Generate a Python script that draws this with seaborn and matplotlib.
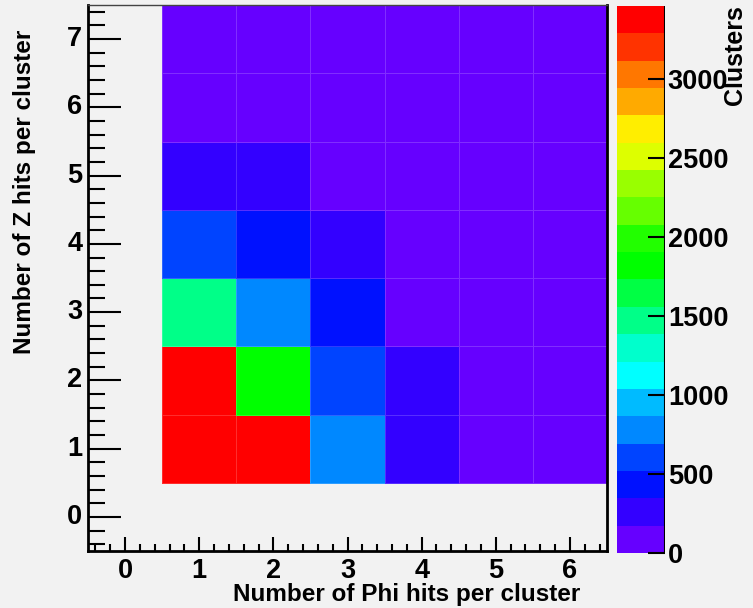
import numpy as np
import pandas as pd
import seaborn as sns
import matplotlib
matplotlib.use("Agg")
import matplotlib.pyplot as plt
from matplotlib.colors import ListedColormap
from matplotlib.ticker import MultipleLocator

# 축 값 (0번 행/열은 비어 있음)
phi_ticks = [0, 1, 2, 3, 4, 5, 6]
z_ticks = [0, 1, 2, 3, 4, 5, 6, 7]
phi_hits = [1, 2, 3, 4, 5, 6]
z_hits = [1, 2, 3, 4, 5, 6, 7]

# 클러스터 개수 (행 = Z hits 1..7, 열 = Phi hits 1..6)
counts_z1 = [3460, 3390, 780, 260, 70, 40]
counts_z2 = [3350, 1820, 600, 250, 60, 30]
counts_z3 = [1470, 760, 430, 110, 40, 20]
counts_z4 = [600, 420, 250, 80, 30, 15]
counts_z5 = [280, 220, 90, 40, 20, 10]
counts_z6 = [100, 70, 40, 20, 10, 5]
counts_z7 = [50, 30, 20, 10, 5, 3]

z_max = 3460
cbar_ticks = [0, 500, 1000, 1500, 2000, 2500, 3000]

# ROOT 기본 팔레트 (20단계, 아래 -> 위)
palette = ["#6600ff", "#3300ff", "#0011ff", "#0044ff", "#0088ff",
           "#00bbff", "#00ffff", "#00ffcc", "#00ff88", "#00ff44",
           "#00ff00", "#22ff00", "#66ff00", "#99ff00", "#ddff00",
           "#ffee00", "#ffaa00", "#ff7700", "#ff3300", "#ff0000"]

rows = [counts_z1, counts_z2, counts_z3, counts_z4, counts_z5, counts_z6, counts_z7]
df = pd.DataFrame(rows, index=z_hits, columns=phi_hits)

bg = "#f2f2f2"
plt.rcParams['font.family'] = ['Liberation Sans', 'DejaVu Sans']
plt.rcParams['font.weight'] = 'bold'

fig = plt.figure(figsize=(7.53, 6.08), dpi=100, facecolor=bg)
ax = fig.add_axes([88 / 753, 57 / 608, 519 / 753, 546 / 608])
cax = fig.add_axes([617 / 753, 55 / 608, 48 / 753, 547 / 608])
ax.set_facecolor(bg)

sns.heatmap(df, ax=ax, cbar_ax=cax, cmap=ListedColormap(palette), vmin=0, vmax=z_max,
            linewidths=0.5, linecolor=(1, 1, 1, 0.18))

# 히트맵 셀은 0..6, 0..7 위치 -> 빈 0번 칸을 위해 한 칸씩 확장
ax.set_xlim(-1, len(phi_hits))
ax.set_ylim(-1, len(z_hits))   # y축 아래 -> 위
ax.set_xticks(np.arange(len(phi_ticks)) - 0.5)
ax.set_xticklabels(phi_ticks, rotation=0)
ax.set_yticks(np.arange(len(z_ticks)) - 0.5)
ax.set_yticklabels(z_ticks, rotation=0)
ax.xaxis.set_minor_locator(MultipleLocator(0.2, offset=0.5))
ax.yaxis.set_minor_locator(MultipleLocator(0.2, offset=0.5))
ax.set_xlabel("")
ax.set_ylabel("")

ax.tick_params(axis='both', which='both', direction='in', labelsize=19.5, width=1.5, color='black')
ax.tick_params(axis='x', which='major', length=10, pad=5)
ax.tick_params(axis='x', which='minor', length=5)
ax.tick_params(axis='y', which='major', length=24, pad=4)
ax.tick_params(axis='y', which='minor', length=12)

for s in ax.spines.values():
    s.set_visible(True)
    s.set_color('black')
    s.set_linewidth(2)
ax.spines['top'].set_linewidth(1)
ax.spines['top'].set_color('#444444')

# 컬러바
cax.set_yticks(cbar_ticks)
cax.tick_params(axis='y', direction='in', length=12, width=1.5, labelsize=19.5, pad=2, color='black')
cax.axvline(1, color='black', lw=1.5)

fig.text(580 / 753, 0.003, "Number of Phi hits per cluster", ha='right', va='bottom',
         fontsize=17.5, fontweight='bold')
fig.text(25 / 753, 1 - 30 / 608, "Number of Z hits per cluster", ha='center', va='top',
         rotation=90, fontsize=17.5, fontweight='bold')
fig.text(735 / 753, 1 - 5 / 608, "Clusters", ha='center', va='top',
         rotation=90, fontsize=18, fontweight='bold')

fig.savefig("out.png", dpi=100, facecolor=bg)
